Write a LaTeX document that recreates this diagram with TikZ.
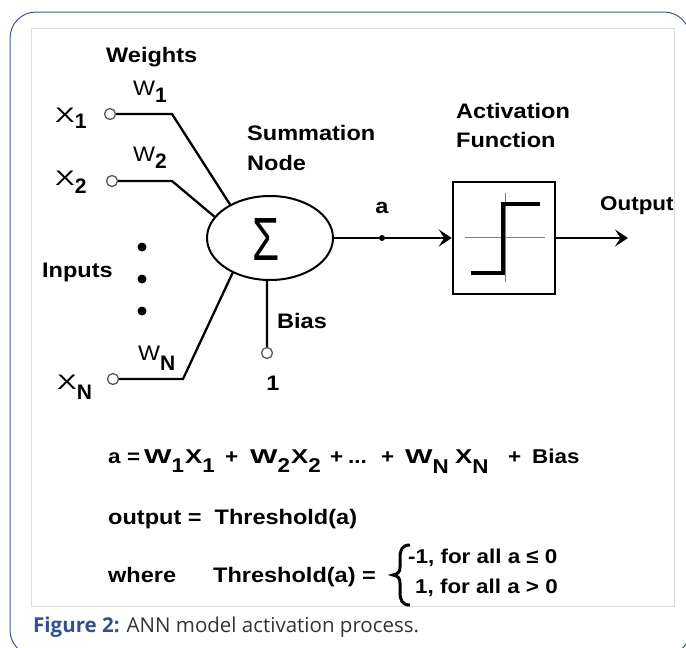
\documentclass[tikz,border=0pt]{standalone}
\usepackage{fontspec}
\setmainfont{Liberation Sans}
\newfontfamily\lbf{Liberation Sans}[FakeStretch=1.12]
\newfontfamily\capfont{Open Sans}
\usetikzlibrary{shapes.geometric,arrows.meta}
\definecolor{frameblue}{HTML}{3F56A6}
\definecolor{capblue}{HTML}{2E4E9E}
\definecolor{capgray}{HTML}{333333}
\definecolor{panelgray}{HTML}{DDDDDD}
\newcommand{\lo}[2][7]{\raisebox{-#1pt}{\bfseries #2}}
\newcommand{\Wd}{\scalebox{1.11}[1]{W}}
\newcommand{\Xd}{\scalebox{1.4}[1]{X}}
\newcommand{\We}{\scalebox{1.3}[1]{W}}
\newcommand{\Xe}{\scalebox{1.15}[1]{X}}
\newcommand{\putat}[2]{\makebox[0pt][l]{\hspace*{#1pt}#2}}
\begin{document}
\begin{tikzpicture}[x=1pt,y=-1pt,
  lbl/.style={font=\lbf\fontsize{21}{24}\selectfont\bfseries, inner sep=0pt, anchor=base west},
  var/.style={font=\fontsize{21}{24}\selectfont, inner sep=0pt, anchor=base west},
  eqn/.style={font=\lbf\fontsize{21}{24}\selectfont\bfseries, inner sep=0pt, anchor=base west},
  wire/.style={line width=2.3pt, line join=miter},
  port/.style={circle, draw=black!65, line width=1.3pt, fill=white, inner sep=0pt, minimum size=11pt},
  dotn/.style={circle, fill=black, inner sep=0pt, minimum size=9pt},
  tip/.style={-{Stealth[length=13pt,width=17pt,inset=5.5pt]}}
]
\useasboundingbox (0,0) rectangle (686,648);
\draw[frameblue, line width=1pt, rounded corners=26pt] (10,12) rectangle (690,656);
\draw[panelgray, line width=1pt, fill=white] (31,28) rectangle (674,606);

% nodes
\node[port] (x1c) at (110,114) {};
\node[port] (x2c) at (112,181) {};
\node[port] (xnc) at (113,379) {};
\node[port] (biasc) at (267,353) {};
\node[ellipse, draw, line width=2pt, minimum width=126pt, minimum height=84pt, inner sep=0pt] (sum) at (270,238) {};
\node[inner sep=0pt] (sigma) at (266,240) {\scalebox{0.72}[1]{\fontsize{61}{61}\selectfont Σ}};
\node[draw, line width=2.5pt, minimum width=102pt, minimum height=112pt, inner sep=0pt] (act) at (504,238) {};
\node[circle, fill=black, inner sep=0pt, minimum size=6pt] (adot) at (382,238) {};
\node[dotn] (d1) at (142,247) {};
\node[dotn] (d2) at (142,279) {};
\node[dotn] (d3) at (142,311) {};

% wires
\coordinate (k1) at (172,114);
\coordinate (k2) at (172,181);
\coordinate (kn) at (183,379);
\coordinate (outend) at (628,238);
\draw[wire] (x1c) -- (k1) -- (sum.140);
\draw[wire] (x2c) -- (k2) -- (sum.159);
\draw[wire] (xnc) -- (kn) -- (sum.223);
\draw[wire] (biasc) -- (sum.266);
\draw[wire] (sum.east) -- (adot);
\draw[wire, tip] (adot) -- (act.west);
\draw[wire, tip] (act.east) -- (outend);

% step function inside activation box
\draw[gray, line width=1pt] (465,237) -- (545,237);
\draw[gray, line width=1pt] (505,193) -- (505,282);
\draw[line width=3.5pt] (471,273) -- (503,273) -- (503,204) -- (540,204);

% labels
\node[lbl] (weights) at (106,62) {Weights};
\node[var] (w1) at (133,95) {\Wd\lo{1}};
\node[var] (x1) at (55,122) {\Xd\lo[6]{1}};
\node[var] (w2) at (133,161) {\Wd\lo{2}};
\node[var] (x2) at (55,185) {\Xd\lo[8]{2}};
\node[var] (wn) at (138,360) {\Wd\lo[10]{N}};
\node[var] (xn) at (57,389) {\Xd\lo[10]{N}};
\node[lbl] (inputs) at (42,277) {Inputs};
\node[lbl] (summ) at (247,140) {Summation};
\node[lbl] (nodel) at (247,170) {Node};
\node[lbl] (activ) at (456,118) {Activation};
\node[lbl] (func) at (456,147) {Function};
\node[lbl, anchor=base] (alab) at (382,213) {a};
\node[lbl, font=\lbf\fontsize{20}{24}\selectfont\bfseries] (outl) at (600,210) {Output};
\node[lbl] (biasl) at (277,328) {Bias};
\node[lbl, anchor=base] (one) at (273,390) {1};

% equations
\node[eqn, font=\lbf\fontsize{20}{24}\selectfont\bfseries] (eq1) at (108,463) {\putat{0}{a}\putat{19}{=}\putat{36}{\We\lo[9]{1}}\putat{77}{\Xe\lo[9]{1}}\putat{117}{+}\putat{142}{\We\lo[9]{2}}\putat{183}{\Xe\lo[9]{2}}\putat{222}{+}\putat{240}{...}\putat{273}{+}\putat{297}{\We\lo[10]{N}}\putat{347}{\Xe\lo[10]{N}}\putat{400}{+}\putat{424}{Bias}\hspace*{474pt}};
\node[eqn] (eq2) at (108,524) {output =\ \ Threshold(a)};
\node[eqn] (eq3a) at (108,582) {where};
\node[eqn] (eq3b) at (213,582) {Threshold(a) =};
\draw[line width=3pt] (410,545) .. controls (402,545) and (400,550) .. (400,558) -- (400,567) .. controls (400,572) and (398,574) .. (393,575) .. controls (398,576) and (400,578) .. (400,583) -- (400,592) .. controls (400,600) and (402,605) .. (410,605);
\node[eqn, font=\lbf\fontsize{20}{24}\selectfont\bfseries] (case1) at (408,563) {-1, for all a ≤ 0};
\node[eqn, font=\lbf\fontsize{20}{24}\selectfont\bfseries] (case2) at (415,593) {1, for all a > 0};

% caption
\node[anchor=base west, inner sep=0pt, font=\capfont\fontsize{20.5}{22}\selectfont] (cap) at (33,632) {\textcolor{capblue}{\bfseries Figure 2:} \textcolor{capgray}{ANN model activation process.}};
\end{tikzpicture}
\end{document}
